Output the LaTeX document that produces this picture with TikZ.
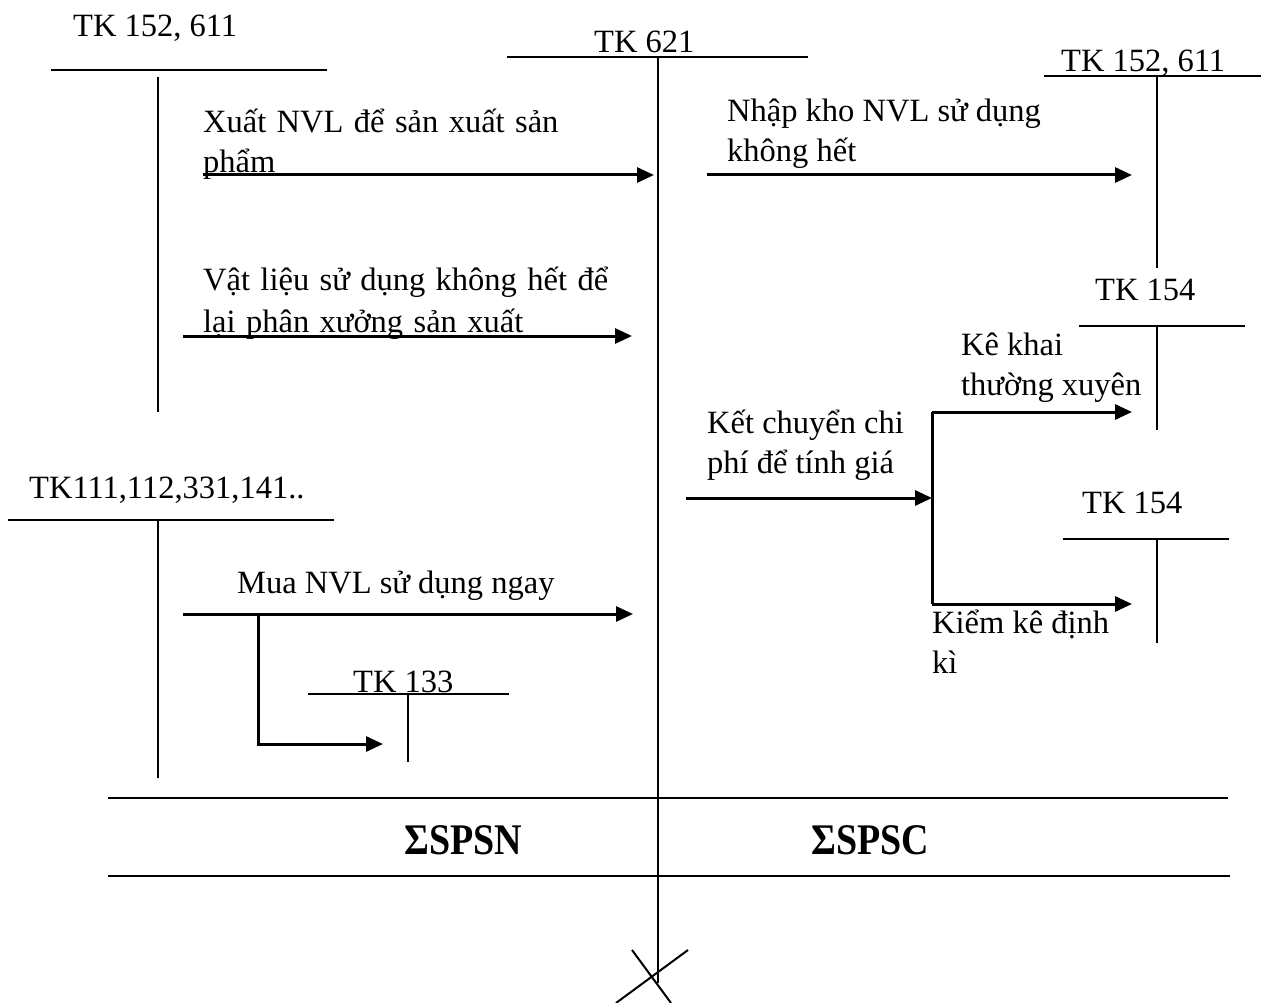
\documentclass[tikz,border=0pt]{standalone}
\usepackage{fontspec}
\setmainfont{Liberation Serif}
\usetikzlibrary{arrows.meta}
\newcommand{\wsp}{\hspace{10.4pt}}
\begin{document}
\begin{tikzpicture}[x=1pt,y=-1pt,
  lbl/.style={anchor=base west,inner sep=0pt,font=\fontsize{32.5}{38}\selectfont},
  sumlbl/.style={anchor=base west,inner sep=0pt,font=\fontsize{38}{44}\selectfont\bfseries},
  tline/.style={line width=2pt},
  sepline/.style={line width=2.4pt},
  flow/.style={line width=3pt,-{Triangle[length=17pt,width=15pt]}}]
\useasboundingbox (0,0) rectangle (1261,1003);

% ---- labels
\node[lbl] (tkA) at (73,37) {TK 152, 611};
\node[lbl] (tk621) at (594,53) {TK 621};
\node[lbl] (xuat1) at (203,133) {Xuất\wsp NVL\wsp để\wsp sản\wsp xuất\wsp sản};
\node[lbl] (xuat2) at (203,173) {phẩm};
\node[lbl] (vl1) at (203,290) {Vật\wsp liệu\wsp sử\wsp dụng\wsp không\wsp hết\wsp để};
\node[lbl] (vl2) at (203,332) {lại\wsp phân\wsp xưởng\wsp sản\wsp xuất};
\node[lbl] (tkB) at (29,498) {TK111,112,331,141..};
\node[lbl] (mua) at (237,593) {Mua NVL sử dụng ngay};
\node[lbl] (tk133) at (353,692) {TK 133};
\node[lbl] (tkC) at (1061,72) {TK 152, 611};
\node[lbl] (nk1) at (727,122) {Nhập kho NVL sử dụng};
\node[lbl] (nk2) at (727,162) {không hết};
\node[lbl] (tk154a) at (1095,300) {TK 154};
\node[lbl] (kk1) at (961,355) {Kê khai};
\node[lbl] (kk2) at (961,395) {thường xuyên};
\node[lbl] (kc1) at (707,433) {Kết chuyển chi};
\node[lbl] (kc2) at (707,473) {phí để tính giá};
\node[lbl] (tk154b) at (1082,513) {TK 154};
\node[lbl] (kd1) at (932,633) {Kiểm kê định};
\node[lbl] (kd2) at (932,673) {kì};
\node[sumlbl] (spsn) at (404,854) {\scalebox{1}[1.15]{ΣSPSN}};
\node[sumlbl] (spsc) at (811,854) {\scalebox{1}[1.15]{ΣSPSC}};

% ---- T-account coordinates
\coordinate (aL) at (51,70);   \coordinate (aR) at (327,70);
\coordinate (aT) at (158,77);  \coordinate (aB) at (158,412);
\coordinate (mL) at (507,57);  \coordinate (mR) at (808,57);
\coordinate (mT) at (658,57);  \coordinate (mB) at (658,983);
\coordinate (cL) at (1044,76); \coordinate (cR) at (1261,76);
\coordinate (cT) at (1157,76); \coordinate (cB) at (1157,268);
\coordinate (dL) at (1079,326);\coordinate (dR) at (1245,326);
\coordinate (dT) at (1157,326);\coordinate (dB) at (1157,430);
\coordinate (eL) at (1063,539);\coordinate (eR) at (1229,539);
\coordinate (eT) at (1157,539);\coordinate (eB) at (1157,643);
\coordinate (bL) at (8,520);   \coordinate (bR) at (334,520);
\coordinate (bT) at (158,520); \coordinate (bB) at (158,778);
\coordinate (fL) at (308,694); \coordinate (fR) at (509,694);
\coordinate (fT) at (408,694); \coordinate (fB) at (408,762);
\coordinate (s1L) at (108,798);\coordinate (s1R) at (1228,798);
\coordinate (s2L) at (108,876);\coordinate (s2R) at (1230,876);
\coordinate (x1a) at (632,950);\coordinate (x1b) at (671,1003);
\coordinate (x2a) at (688,950);\coordinate (x2b) at (616,1003);

\draw[tline] (aL) -- (aR) (aT) -- (aB);
\draw[tline] (mL) -- (mR) (mT) -- (mB);
\draw[tline] (cL) -- (cR) (cT) -- (cB);
\draw[tline] (dL) -- (dR) (dT) -- (dB);
\draw[tline] (eL) -- (eR) (eT) -- (eB);
\draw[tline] (bL) -- (bR) (bT) -- (bB);
\draw[tline] (fL) -- (fR) (fT) -- (fB);
\draw[sepline] (s1L) -- (s1R) (s2L) -- (s2R);
\draw[tline] (x1a) -- (x1b) (x2a) -- (x2b);

% ---- flow coordinates
\coordinate (p1s) at (203,175); \coordinate (p1e) at (654,175);
\coordinate (p2s) at (183,336); \coordinate (p2e) at (632,336);
\coordinate (p3s) at (707,175); \coordinate (p3e) at (1132,175);
\coordinate (p4s) at (686,498); \coordinate (p4e) at (932,498);
\coordinate (brT) at (932,412); \coordinate (brB) at (932,604);
\coordinate (p5e) at (1132,412);\coordinate (p6e) at (1132,604);
\coordinate (p7s) at (183,614); \coordinate (p7e) at (633,614);
\coordinate (p8s) at (258,614); \coordinate (p8e) at (383,744);

\draw[flow] (p1s) -- (p1e);
\draw[flow] (p2s) -- (p2e);
\draw[flow] (p3s) -- (p3e);
\draw[flow] (p4s) -- (p4e);
\draw[line width=3pt] (brT) -- (brB);
\draw[flow] (brT) -- (p5e);
\draw[flow] (brB) -- (p6e);
\draw[flow] (p7s) -- (p7e);
\draw[flow] (p8s) |- (p8e);
\end{tikzpicture}
\end{document}
